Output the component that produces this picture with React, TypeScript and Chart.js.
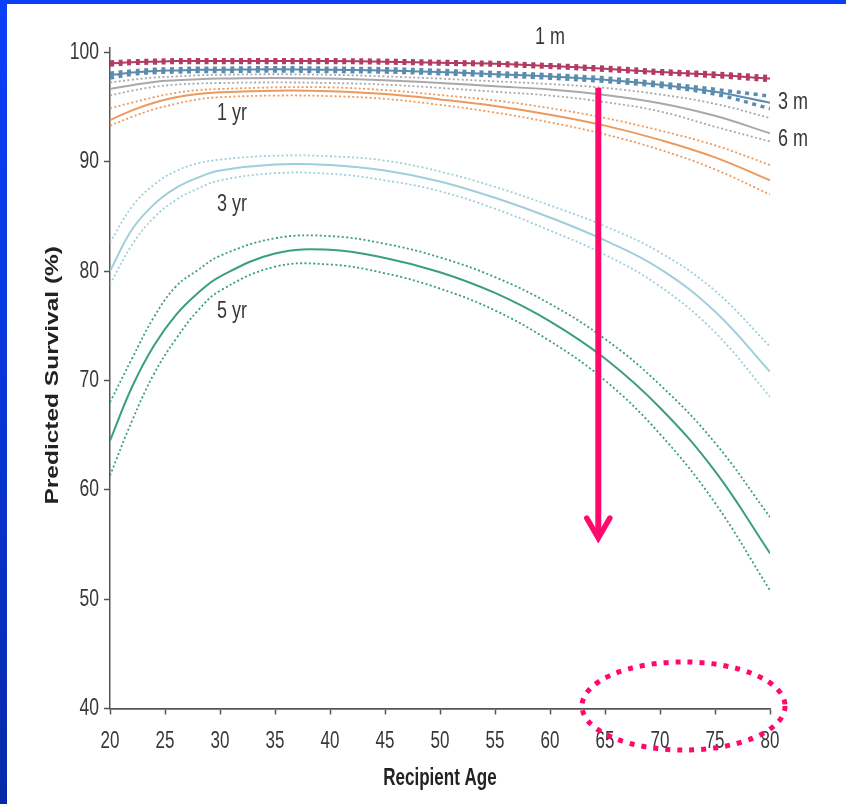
import React, { useEffect, useRef } from 'react';
import { Chart, registerables } from 'chart.js';

Chart.register(...registerables);

// ---------- data ----------
const ages = [20, 22, 24, 26, 28, 30, 35, 40, 45, 50, 55, 60, 65, 70, 75, 80];

const month1 = [99.0, 99.1, 99.15, 99.2, 99.2, 99.2, 99.2, 99.2, 99.15, 99.05, 98.95, 98.75, 98.5, 98.2, 97.95, 97.6];
const month1Upper = [99.12, 99.22, 99.27, 99.32, 99.32, 99.32, 99.32, 99.32, 99.27, 99.17, 99.07, 98.87, 98.63, 98.33, 98.1, 97.78];
const month1Lower = [98.85, 98.98, 99.03, 99.08, 99.08, 99.08, 99.08, 99.08, 99.03, 98.93, 98.83, 98.63, 98.37, 98.07, 97.8, 97.42];

const month3 = [97.9, 98.15, 98.3, 98.35, 98.4, 98.4, 98.45, 98.4, 98.35, 98.2, 98.0, 97.8, 97.5, 97.05, 96.4, 95.4];
const month3Upper = [98.1, 98.3, 98.45, 98.5, 98.55, 98.55, 98.6, 98.55, 98.5, 98.35, 98.15, 97.95, 97.66, 97.2, 96.62, 96.0];
const month3Lower = [97.65, 98.0, 98.15, 98.2, 98.25, 98.25, 98.3, 98.25, 98.2, 98.05, 97.85, 97.64, 97.34, 96.9, 96.18, 94.85];

const month6 = [96.65, 97.0, 97.3, 97.45, 97.55, 97.6, 97.65, 97.6, 97.45, 97.2, 96.9, 96.6, 96.1, 95.35, 94.2, 92.6];
const month6Upper = [97.25, 97.5, 97.7, 97.8, 97.9, 97.95, 98.0, 97.95, 97.8, 97.6, 97.35, 97.1, 96.75, 96.15, 95.3, 94.0];
const month6Lower = [96.05, 96.5, 96.85, 97.05, 97.15, 97.2, 97.25, 97.2, 97.05, 96.75, 96.4, 96.05, 95.45, 94.6, 93.2, 91.85];

const year1 = [93.8, 94.7, 95.4, 95.9, 96.2, 96.35, 96.5, 96.45, 96.2, 95.7, 95.1, 94.3, 93.3, 92.0, 90.4, 88.3];
const year1Upper = [94.9, 95.4, 95.9, 96.3, 96.55, 96.65, 96.8, 96.8, 96.55, 96.1, 95.6, 94.9, 94.0, 92.85, 91.5, 89.7];
const year1Lower = [93.3, 94.1, 94.8, 95.3, 95.7, 95.9, 96.05, 96.0, 95.75, 95.2, 94.5, 93.6, 92.5, 91.1, 89.3, 87.0];

const year3 = [80.0, 83.8, 86.1, 87.6, 88.55, 89.2, 89.75, 89.7, 89.2, 88.2, 86.7, 84.9, 82.8, 80.2, 76.3, 70.8];
const year3Upper = [82.6, 85.9, 87.9, 89.15, 89.85, 90.2, 90.55, 90.5, 90.1, 89.1, 87.7, 86.0, 84.1, 81.7, 78.2, 73.1];
const year3Lower = [78.8, 82.4, 84.9, 86.5, 87.55, 88.3, 88.95, 88.9, 88.3, 87.3, 85.7, 83.7, 81.5, 78.6, 74.4, 68.5];

const year5 = [64.5, 69.4, 73.2, 76.0, 78.0, 79.5, 81.6, 81.95, 81.2, 79.9, 78.0, 75.4, 72.0, 67.5, 61.7, 54.2];
const year5Upper = [68.0, 72.0, 75.8, 78.6, 80.1, 81.4, 83.0, 83.2, 82.5, 81.25, 79.45, 77.0, 73.8, 69.6, 64.3, 57.5];
const year5Lower = [61.3, 66.3, 70.6, 73.8, 76.4, 78.2, 80.4, 80.6, 79.8, 78.4, 76.4, 73.6, 70.0, 65.1, 58.8, 50.8];

const xTickValues = [20, 25, 30, 35, 40, 45, 50, 55, 60, 65, 70, 75, 80];
const yTickValues = [40, 50, 60, 70, 80, 90, 100];

const seriesLabelTexts = ['1 m', '3 m', '6 m', '1 yr', '3 yr', '5 yr'];
const seriesLabelAges = [60, 82.1, 82.1, 31.1, 31.1, 31.1];
const seriesLabelValues = [101.35, 95.4, 92.1, 94.4, 86.07, 76.3];

const arrowAge = 64.39;
const arrowFromValue = 96.77;
const arrowToValue = 55.4;
const ellipseCenterAge = 72.14;
const ellipseCenterValue = 40.23;
const ellipseRadiusAge = 9.23;
const ellipseRadiusValue = 4.03;

const xTitle = 'Recipient Age';
const yTitle = 'Predicted Survival (%)';

// ---------- styles ----------
const SANS = "'Liberation Sans',Arial,Helvetica,sans-serif";
const TEXT = '#383838';
const TITLE = '#222222';
const AXIS = '#555555';
const ACCENT = '#ff0a6c';
const STRETCH = 1.36; // the source picture is stretched vertically

const seriesDefs = [
  { main: month1, hi: month1Upper, lo: month1Lower, color: '#b23b63', beads: true },
  { main: month3, hi: month3Upper, lo: month3Lower, color: '#5b8cae', beads: true },
  { main: month6, hi: month6Upper, lo: month6Lower, color: '#a9a9ab', beads: false },
  { main: year1, hi: year1Upper, lo: year1Lower, color: '#ec9a5e', beads: false },
  { main: year3, hi: year3Upper, lo: year3Lower, color: '#9fcfdb', beads: false },
  { main: year5, hi: year5Upper, lo: year5Lower, color: '#3a9f7c', beads: false },
];

const toPoints = (vals: number[]) => ages.map((a, i) => ({ x: a, y: vals[i] }));

function buildDatasets() {
  const ds: any[] = [];
  seriesDefs.forEach((s) => {
    const ci = (vals: number[]) => ({
      data: toPoints(vals),
      borderColor: s.color,
      borderWidth: s.beads ? 3.5 : 1.8,
      borderDash: s.beads ? [4, 4.6] : [2, 2.4],
      pointRadius: 0,
      tension: 0.4,
      fill: false,
    });
    ds.push({
      data: toPoints(s.main),
      borderColor: s.color,
      borderWidth: 2,
      pointRadius: 0,
      tension: 0.4,
      fill: false,
    });
    ds.push(ci(s.hi));
    ds.push(ci(s.lo));
  });
  return ds;
}

// draw the scale's own tick labels and title with the vertical stretch of the source
function stretchScaleText(scale: any) {
  if (scale.__stretched) return;
  scale.__stretched = true;
  scale.drawLabels = function (chartArea: any) {
    const ctx = this.ctx;
    const items = this.getLabelItems(chartArea);
    for (const item of items) {
      const o = item.options;
      ctx.save();
      ctx.translate(o.translation[0], o.translation[1] + item.textOffset);
      ctx.scale(1, STRETCH);
      ctx.font = item.font.string;
      ctx.fillStyle = o.color;
      ctx.textAlign = o.textAlign;
      ctx.textBaseline = 'middle';
      ctx.fillText(String(item.label), 0, 0);
      ctx.restore();
    }
  };
  scale.drawTitle = function () {
    const t = this.options.title;
    if (!t || !t.display) return;
    const ctx = this.ctx;
    const f = t.font;
    const size = f.size;
    const half = (size * 1.2) / 2;
    const pad = t.padding || {};
    ctx.save();
    ctx.font = `${f.weight || 'normal'} ${size}px ${f.family}`;
    ctx.fillStyle = t.color;
    ctx.textAlign = 'center';
    ctx.textBaseline = 'middle';
    if (this.isHorizontal()) {
      const x = (this.left + this.right) / 2;
      const y = this.bottom - half * STRETCH - (pad.bottom || 0);
      ctx.translate(x, y);
      ctx.scale(1, STRETCH);
    } else {
      const x = this.left + half + (pad.top || 0);
      const y = (this.top + this.bottom) / 2 - 3;
      ctx.translate(x, y);
      ctx.rotate(-Math.PI / 2);
      ctx.scale(STRETCH, 1);
    }
    ctx.fillText(t.text, 0, 0);
    ctx.restore();
  };
}

const overlayPlugin = {
  id: 'overlay',
  afterDraw(chart: any) {
    const { ctx } = chart;
    const xs = chart.scales.x;
    const ys = chart.scales.y;
    ctx.save();

    ctx.fillStyle = TEXT;
    ctx.textAlign = 'center';
    ctx.textBaseline = 'middle';
    ctx.font = `18px ${SANS}`;
    seriesLabelTexts.forEach((t, i) => {
      const x = xs.getPixelForValue(seriesLabelAges[i]);
      const y = ys.getPixelForValue(seriesLabelValues[i]);
      ctx.save();
      ctx.translate(x, y);
      ctx.scale(1, STRETCH);
      ctx.fillText(t, 0, 0);
      ctx.restore();
    });

    // arrow
    const ax = xs.getPixelForValue(arrowAge);
    const ay0 = ys.getPixelForValue(arrowFromValue);
    const ay1 = ys.getPixelForValue(arrowToValue);
    ctx.strokeStyle = ACCENT;
    ctx.lineWidth = 6;
    ctx.lineCap = 'butt';
    ctx.beginPath();
    ctx.moveTo(ax, ay0);
    ctx.lineTo(ax, ay1 - 4);
    ctx.stroke();
    ctx.lineCap = 'round';
    ctx.lineJoin = 'miter';
    ctx.lineWidth = 5.5;
    ctx.beginPath();
    ctx.moveTo(ax - 11.5, ay1 - 22);
    ctx.lineTo(ax, ay1 - 2);
    ctx.lineTo(ax + 11.5, ay1 - 22);
    ctx.stroke();

    // dotted ellipse
    const ex = xs.getPixelForValue(ellipseCenterAge);
    const ey = ys.getPixelForValue(ellipseCenterValue);
    const rx = Math.abs(xs.getPixelForValue(ellipseCenterAge + ellipseRadiusAge) - ex);
    const ry = Math.abs(ys.getPixelForValue(ellipseCenterValue + ellipseRadiusValue) - ey);
    ctx.lineWidth = 5;
    ctx.lineCap = 'butt';
    ctx.setLineDash([5, 7]);
    ctx.beginPath();
    ctx.ellipse(ex, ey, rx, ry, 0, 0, Math.PI * 2);
    ctx.stroke();

    ctx.restore();
  },
};

export default function App() {
  const ref = useRef<HTMLCanvasElement | null>(null);

  useEffect(() => {
    if (!ref.current) return;
    const chart = new Chart(ref.current, {
      type: 'line',
      data: { datasets: buildDatasets() },
      options: {
        responsive: false,
        animation: false,
        devicePixelRatio: 1,
        layout: { padding: { top: 48, right: 76, left: 0, bottom: 0 } },
        plugins: {
          legend: { display: false },
          tooltip: { enabled: false },
          title: { display: false },
        },
        elements: { line: { borderJoinStyle: 'round' } },
        scales: {
          x: {
            type: 'linear',
            min: 20,
            max: 80,
            afterFit: (s: any) => { s.height = 95.5; stretchScaleText(s); },
            afterBuildTicks: (s: any) => { s.ticks = xTickValues.map((v) => ({ value: v })); },
            ticks: {
              color: TEXT,
              font: { family: SANS, size: 17 },
              padding: 17,
              maxRotation: 0,
              autoSkip: false,
            },
            grid: {
              drawOnChartArea: false,
              drawTicks: true,
              tickLength: 6,
              tickColor: AXIS,
              tickWidth: 1.5,
            },
            border: { display: true, color: AXIS, width: 1.8 },
            title: {
              display: true,
              text: xTitle,
              color: TITLE,
              font: { family: SANS, size: 17, weight: 'bold' },
              padding: { top: 0, bottom: 12 },
            },
          },
          y: {
            type: 'linear',
            min: 40,
            max: 100.4,
            afterFit: (s: any) => { s.width = 110; stretchScaleText(s); },
            afterBuildTicks: (s: any) => { s.ticks = yTickValues.map((v) => ({ value: v })); },
            ticks: {
              color: TEXT,
              font: { family: SANS, size: 17.5 },
              padding: 5,
            },
            grid: {
              drawOnChartArea: false,
              drawTicks: true,
              tickLength: 6,
              tickColor: AXIS,
              tickWidth: 1.5,
            },
            border: { display: true, color: AXIS, width: 1.5 },
            title: {
              display: true,
              text: yTitle,
              color: TITLE,
              font: { family: SANS, size: 18, weight: 'bold' },
              padding: { top: 42, bottom: 0 },
            },
          },
        },
      },
      plugins: [overlayPlugin],
    } as any);
    return () => chart.destroy();
  }, []);

  return (
    <div
      style={{
        position: 'fixed',
        left: 0,
        top: 0,
        width: 846,
        height: 804,
        background: 'linear-gradient(180deg, #0a3ff8 0%, #0838e0 40%, #0629a8 100%)',
        overflow: 'hidden',
      }}
    >
      <div style={{ position: 'absolute', left: 7, top: 4, right: 0, bottom: 0, background: '#ffffff' }} />
      <canvas ref={ref} width={846} height={804} style={{ position: 'absolute', left: 0, top: 0 }} />
    </div>
  );
}
